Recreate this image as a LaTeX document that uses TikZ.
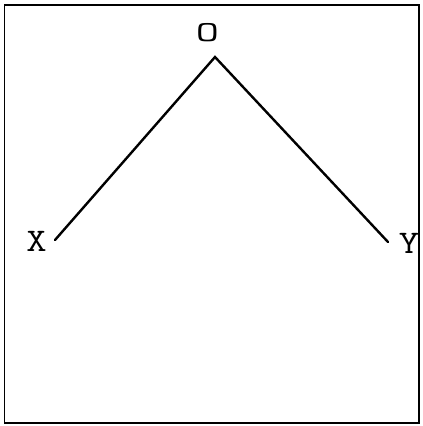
\documentclass[tikz,border=0pt]{standalone}
\usepackage{fontspec}
\newfontfamily\lblfont{Latin Modern Mono}[FakeStretch=1.2]
\newfontfamily\lblwidefont{Latin Modern Mono}[FakeStretch=1.55]
\begin{document}
\begin{tikzpicture}[x=1pt,y=-1pt,
  lbl/.style={font=\lblfont\fontsize{33}{33}\selectfont, inner sep=0pt, anchor=center},
  edge/.style={line width=2.4pt, line cap=round}]
\useasboundingbox (0,0) rectangle (423,426);
\draw[line width=1.6pt] (4.5,5) rectangle (419,423);
\coordinate (o) at (215,57);
\coordinate (x) at (55,240);
\coordinate (y) at (388,242);
\node[lbl, font=\lblwidefont\fontsize{29}{29}\selectfont] (lo) at (207.5,33) {O};
\node[lbl] (lx) at (36.5,241.5) {X};
\node[lbl] (ly) at (409,243) {Y};
\draw[edge] (x) -- (o) -- (y);
\end{tikzpicture}
\end{document}
